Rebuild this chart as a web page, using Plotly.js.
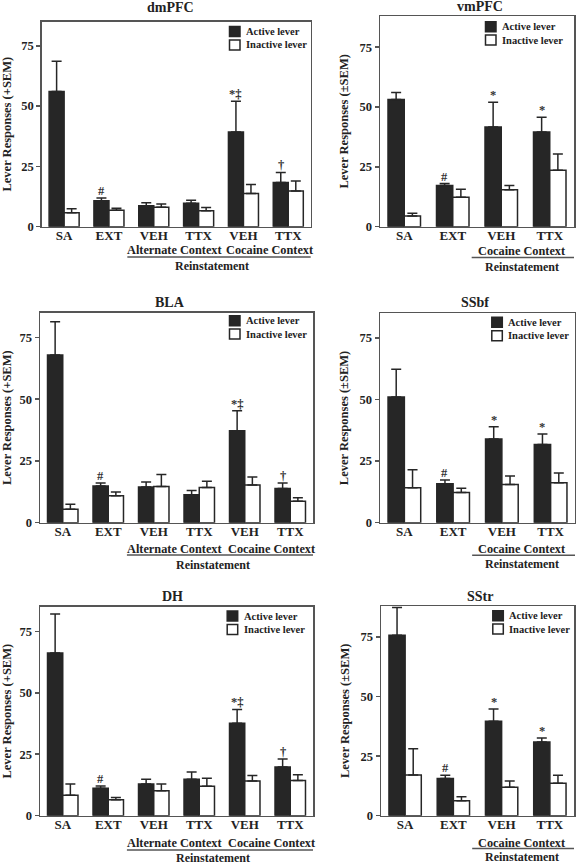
<!DOCTYPE html>
<html><head><meta charset="utf-8">
<script src="https://cdn.plot.ly/plotly-3.0.1.min.js"></script>
<style>html,body{margin:0;padding:0;background:#fff}</style>
</head><body><div id="chart" style="width:576px;height:865px"></div>
<script>
// ---------- data ----------
const labels6 = ['SA', 'EXT', 'VEH', 'TTX', 'VEH', 'TTX'];
const labels4 = ['SA', 'EXT', 'VEH', 'TTX'];
const seriesNames = ['Active lever', 'Inactive lever'];
const yTicks = [0, 25, 50, 75];

const dmPFC_active = [56.1, 10.8, 8.7, 9.7, 39.3, 18.3];
const dmPFC_activeSem = [12.5, 1.1, 1.2, 1.3, 12.7, 4.2];
const dmPFC_inactive = [5.8, 6.8, 8.1, 6.6, 13.8, 14.8];
const dmPFC_inactiveSem = [1.6, 0.8, 1.3, 1.4, 3.7, 4.1];
const dmPFC_marks = ['', '#', '', '', '*‡', '†'];

const vmPFC_active = [53.1, 17.2, 41.6, 39.5];
const vmPFC_activeSem = [3.0, 0.8, 10.4, 6.2];
const vmPFC_inactive = [4.5, 12.3, 15.4, 23.6];
const vmPFC_inactiveSem = [1.1, 3.3, 1.8, 6.8];
const vmPFC_marks = ['', '#', '*', '*'];

const BLA_active = [67.9, 14.9, 14.5, 11.3, 37.2, 13.8];
const BLA_activeSem = [13.4, 1.2, 2.0, 1.7, 8.1, 2.3];
const BLA_inactive = [5.4, 10.9, 14.7, 14.2, 15.3, 8.7];
const BLA_inactiveSem = [2.1, 1.5, 4.8, 2.6, 3.2, 1.4];
const BLA_marks = ['', '#', '', '', '*‡', '†'];

const SSbf_active = [51.0, 15.8, 34.0, 31.7];
const SSbf_activeSem = [11.3, 1.5, 4.9, 4.3];
const SSbf_inactive = [14.2, 12.3, 15.5, 16.2];
const SSbf_inactiveSem = [7.3, 1.7, 3.5, 4.0];
const SSbf_marks = ['', '#', '*', '*'];

const DH_active = [66.2, 11.2, 12.9, 14.8, 37.6, 19.8];
const DH_activeSem = [15.8, 0.9, 1.9, 3.0, 5.6, 3.3];
const DH_inactive = [8.3, 6.5, 10.1, 12.0, 14.1, 14.3];
const DH_inactiveSem = [4.6, 0.9, 2.8, 3.2, 2.3, 2.4];
const DH_marks = ['', '#', '', '', '*‡', '†'];

const SStr_active = [75.7, 15.6, 39.6, 30.9];
const SStr_activeSem = [11.7, 1.4, 5.2, 1.7];
const SStr_inactive = [17.1, 6.3, 11.9, 13.6];
const SStr_inactiveSem = [11.0, 1.6, 2.7, 3.4];
const SStr_marks = ['', '#', '*', '*'];

// ---------- layout config (positions in px) ----------
const W = 576, H = 865;
const panels = [
  {name: 'dmPFC', labels: labels6, a: dmPFC_active, aS: dmPFC_activeSem, i: dmPFC_inactive, iS: dmPFC_inactiveSem, marks: dmPFC_marks,
   ytitle: 'Lever Responses (+SEM)', box: [41.7, 21.7, 310.7, 226.7], ymax: 85, title: [170, 8], leg: [245, 31.5], off: [23, 30.3, 39.5]},
  {name: 'vmPFC', labels: labels4, a: vmPFC_active, aS: vmPFC_activeSem, i: vmPFC_inactive, iS: vmPFC_inactiveSem, marks: vmPFC_marks,
   ytitle: 'Lever Responses (±SEM)', box: [380, 16, 574, 226.7], ymax: 88, title: [480, 6.7], leg: [501, 26.7], off: [24.3, 30.8, 40]},
  {name: 'BLA', labels: labels6, a: BLA_active, aS: BLA_activeSem, i: BLA_inactive, iS: BLA_inactiveSem, marks: BLA_marks,
   ytitle: 'Lever Responses (+SEM)', box: [40, 312.7, 313, 522.7], ymax: 85, title: [170, 302.7], leg: [245, 320.7], off: [25.8, 32.4, 42.3]},
  {name: 'SSbf', labels: labels4, a: SSbf_active, aS: SSbf_activeSem, i: SSbf_inactive, iS: SSbf_inactiveSem, marks: SSbf_marks,
   ytitle: 'Lever Responses (±SEM)', box: [380, 313.3, 575, 522.7], ymax: 85, title: [475, 302.7], leg: [507.3, 322.3], off: [25.8, 32.6, 41.3]},
  {name: 'DH', labels: labels6, a: DH_active, aS: DH_activeSem, i: DH_inactive, iS: DH_inactiveSem, marks: DH_marks,
   ytitle: 'Lever Responses (+SEM)', box: [40, 606.7, 313, 815.7], ymax: 85, title: [172.7, 596.7], leg: [242.7, 616], off: [27.6, 34.3, 41.8]},
  {name: 'SStr', labels: labels4, a: SStr_active, aS: SStr_activeSem, i: SStr_inactive, iS: SStr_inactiveSem, marks: SStr_marks,
   ytitle: 'Lever Responses (±SEM)', box: [381, 606, 574, 815.7], ymax: 88, title: [480, 596.7], leg: [508.3, 615.7], off: [26.8, 32.7, 41.5]}
];

const FONT = 'Liberation Serif, Times New Roman, serif';
const TXT = '#222';
const DARK = '#262626';
const LINE = '#555';
const BARGAP = 0.33;

const px = x => x / W;
const py = y => 1 - y / H;

const traces = [];
const layout = {
  width: W, height: H,
  margin: {l: 0, r: 0, t: 0, b: 0},
  paper_bgcolor: '#fff', plot_bgcolor: '#fff',
  barmode: 'group', bargap: BARGAP, bargroupgap: 0,
  showlegend: false,
  font: {family: FONT, color: TXT},
  annotations: [], shapes: []
};

panels.forEach((p, k) => {
  const n = k + 1;
  const xa = n === 1 ? 'x' : 'x' + n;
  const ya = n === 1 ? 'y' : 'y' + n;
  const xkey = n === 1 ? 'xaxis' : 'xaxis' + n;
  const ykey = n === 1 ? 'yaxis' : 'yaxis' + n;
  const xs = p.labels.map((_, j) => j);
  const zeros = p.labels.map(() => 0);
  const [l, t, r, b] = p.box;

  traces.push({
    type: 'bar', x: xs, y: p.a, name: seriesNames[0], xaxis: xa, yaxis: ya,
    marker: {color: DARK, line: {color: DARK, width: 1.5}},
    error_y: {type: 'data', symmetric: false, array: p.aS, arrayminus: zeros, color: DARK, thickness: 1.5, width: 5},
    hoverinfo: 'skip'
  });
  traces.push({
    type: 'bar', x: xs, y: p.i, name: seriesNames[1], xaxis: xa, yaxis: ya,
    marker: {color: '#fff', line: {color: DARK, width: 1.5}},
    error_y: {type: 'data', symmetric: false, array: p.iS, arrayminus: zeros, color: DARK, thickness: 1.5, width: 5},
    hoverinfo: 'skip'
  });

  layout[xkey] = {
    domain: [px(l), px(r)], anchor: ya, range: [-0.5, p.labels.length - 0.5],
    tickmode: 'array', tickvals: xs, ticktext: p.labels, ticks: '', ticklabelstandoff: -4,
    tickfont: {family: FONT, size: 13, color: TXT, weight: 'bold'},
    showline: true, mirror: true, linecolor: LINE, linewidth: 1.5,
    showgrid: false, zeroline: false, fixedrange: true
  };
  layout[ykey] = {
    domain: [py(b), py(t)], anchor: xa, range: [0, p.ymax],
    tickmode: 'array', tickvals: yTicks, ticks: 'outside', ticklen: 4, tickwidth: 1.5, tickcolor: LINE,
    tickfont: {family: FONT, size: 12.5, color: TXT, weight: 'bold'},
    showline: true, mirror: true, linecolor: LINE, linewidth: 1.5,
    showgrid: false, zeroline: false, fixedrange: true,
    title: {text: p.ytitle, font: {family: FONT, size: 12.5, color: TXT, weight: 'bold'}, standoff: 8}
  };

  // legend (key squares + labels)
  seriesNames.forEach((s, j) => {
    const cy = p.leg[1] + j * 13.4;
    layout.shapes.push({type: 'rect', xref: 'paper', yref: 'paper',
      x0: px(p.leg[0] - 15.5), x1: px(p.leg[0] - 5), y0: py(cy + 5), y1: py(cy - 5),
      fillcolor: j === 0 ? DARK : '#fff', line: {color: DARK, width: 1.5}});
    layout.annotations.push({xref: 'paper', yref: 'paper', x: px(p.leg[0] - 1), y: py(cy),
      xanchor: 'left', yanchor: 'middle', text: '<b>' + s + '</b>', showarrow: false,
      font: {family: FONT, size: 10.5, color: TXT}});
  });

  // panel title
  layout.annotations.push({
    xref: 'paper', yref: 'paper', x: px(p.title[0]), y: py(p.title[1]), xanchor: 'center', yanchor: 'middle',
    text: '<b>' + p.name + '</b>', showarrow: false, font: {family: FONT, size: 14, color: TXT}
  });

  // significance marks above active bars
  const shift = (1 - BARGAP) / 4;
  p.marks.forEach((m, j) => {
    if (!m) return;
    layout.annotations.push({
      xref: xa, yref: ya, x: j - shift, y: p.a[j] + p.aS[j], xanchor: 'center', yanchor: 'bottom',
      text: '<b>' + m + '</b>', showarrow: false, font: {family: FONT, size: 12.5, color: '#333'}, yshift: -2
    });
  });

  // context grouping
  const yc = py(b + p.off[0]), yl = py(b + p.off[1]), yr = py(b + p.off[2]);
  let lineX0, lineX1, reinX;
  if (p.labels.length === 6) {
    layout.annotations.push({xref: xa, yref: 'paper', x: 2.46, y: yc, xanchor: 'center', yanchor: 'middle',
      text: '<b>Alternate Context</b>', showarrow: false, font: {family: FONT, size: 12.3, color: TXT}});
    layout.annotations.push({xref: xa, yref: 'paper', x: 4.6, y: yc, xanchor: 'center', yanchor: 'middle',
      text: '<b>Cocaine Context</b>', showarrow: false, font: {family: FONT, size: 12.3, color: TXT}});
    lineX0 = 1.41; lineX1 = 5.56; reinX = 3.3;
  } else {
    layout.annotations.push({xref: xa, yref: 'paper', x: 2.42, y: yc, xanchor: 'center', yanchor: 'middle',
      text: '<b>Cocaine Context</b>', showarrow: false, font: {family: FONT, size: 12.3, color: TXT}});
    lineX0 = 1.39; lineX1 = 3.52; reinX = 2.42;
  }
  layout.shapes.push({type: 'line', xref: xa, yref: 'paper', x0: lineX0, x1: lineX1, y0: yl, y1: yl,
    line: {color: LINE, width: 1.5}});
  layout.annotations.push({xref: xa, yref: 'paper', x: reinX, y: yr, xanchor: 'center', yanchor: 'middle',
    text: '<b>Reinstatement</b>', showarrow: false, font: {family: FONT, size: 12, color: TXT}});
});

Plotly.newPlot('chart', traces, layout, {staticPlot: true, displayModeBar: false});
</script>
</body></html>
